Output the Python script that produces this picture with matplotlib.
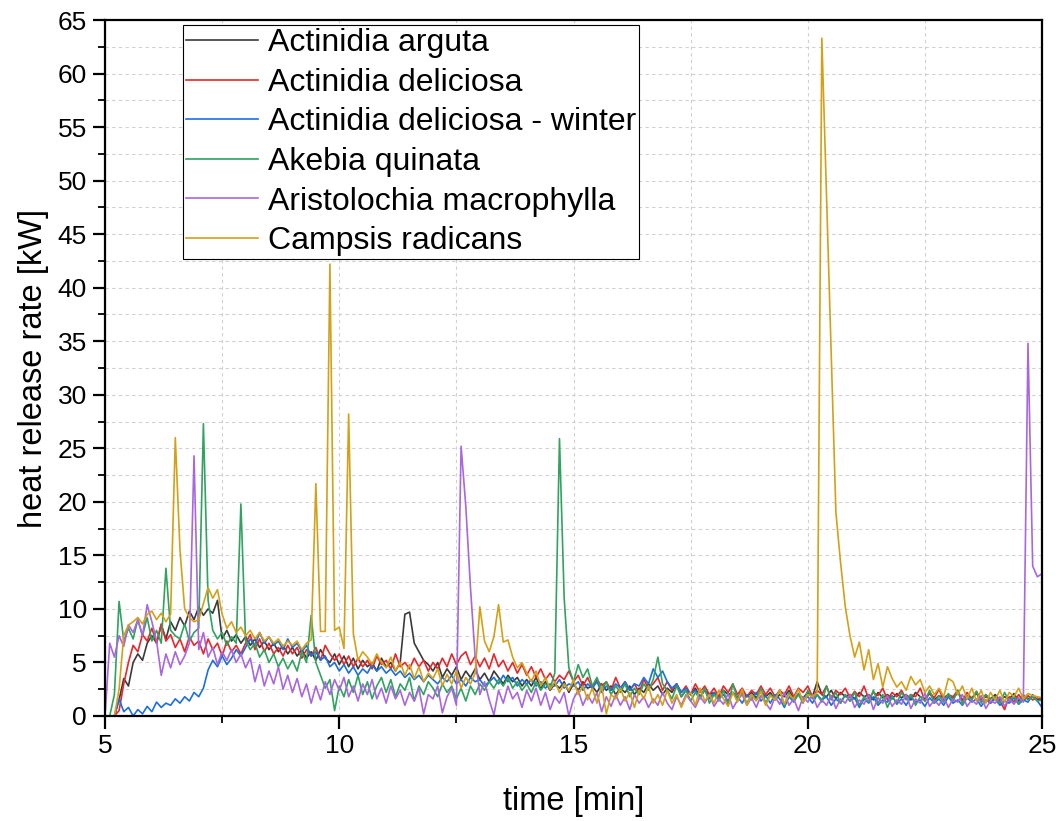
import numpy as np
import matplotlib
matplotlib.use("Agg")
import matplotlib.pyplot as plt
from matplotlib.ticker import MultipleLocator

plt.rcParams['font.family'] = ['Liberation Sans', 'DejaVu Sans']

# time axis [min], sampled every 0.1 min from 5.0 to 25.0
time_min = np.round(np.arange(50, 251) / 10.0, 1)

labels = ["Actinidia arguta", "Actinidia deliciosa", "Actinidia deliciosa - winter",
          "Akebia quinata", "Aristolochia macrophylla", "Campsis radicans"]
colors = ["#3a3a3a", "#e8262b", "#1c6fe0", "#2fa35f", "#a866e0", "#d4a017"]

actinidia_arguta = [
    0, 0, 0, 1.5, 3.5, 2.8, 5.0, 5.8, 5.2, 6.8,
    7.5, 6.8, 8.5, 7.2, 8.8, 8.0, 9.2, 8.4, 9.8, 9.0,
    10.2, 9.4, 10.0, 9.6, 10.8, 7.2, 8.0, 7.0, 7.6, 6.8,
    7.4, 6.6, 7.2, 6.4, 7.0, 6.2, 6.8, 6.0, 6.6, 5.8,
    6.4, 5.6, 6.2, 5.4, 6.0, 5.2, 6.2, 5.4, 5.0, 5.8,
    4.8, 5.6, 4.6, 5.4, 4.4, 5.2, 4.6, 5.0, 4.2, 5.4,
    4.6, 5.0, 4.2, 5.0, 9.5, 9.7, 6.8, 6.0, 5.2, 4.8,
    4.2, 5.0, 3.6, 4.4, 3.8, 4.6, 3.4, 4.2, 3.6, 4.4,
    3.4, 4.0, 3.2, 4.2, 3.6, 3.0, 3.8, 3.2, 3.6, 2.8,
    3.4, 2.8, 3.6, 2.6, 3.2, 2.4, 3.0, 2.6, 3.2, 2.2,
    3.0, 2.4, 3.2, 2.6, 2.8, 2.2, 3.0, 2.4, 2.8, 2.0,
    2.6, 2.2, 2.8, 2.0, 2.6, 2.2, 3.0, 2.4, 2.8, 2.0,
    2.6, 2.2, 3.0, 1.8, 2.4, 2.0, 2.6, 1.8, 2.4, 2.0,
    2.2, 1.8, 2.4, 2.0, 2.2, 1.6, 2.4, 1.8, 2.2, 1.7,
    2.3, 1.8, 2.2, 1.5, 2.0, 1.8, 2.4, 1.6, 2.0, 1.7,
    2.2, 1.8, 3.2, 2.0, 1.8, 2.4, 1.6, 2.2, 1.8, 2.0,
    1.6, 2.2, 1.8, 2.0, 1.5, 2.2, 1.7, 2.0, 1.6, 2.1,
    1.7, 2.0, 1.5, 2.2, 1.8, 1.6, 2.1, 1.5, 1.9, 1.7,
    2.0, 1.6, 2.2, 1.5, 1.9, 1.7, 2.1, 1.5, 1.8, 1.6,
    2.0, 1.5, 1.8, 1.6, 2.1, 1.4, 1.9, 1.6, 1.8, 1.5,
    1.6]

actinidia_deliciosa = [
    0, 0, 0, 0.5, 3.0, 5.0, 6.6, 6.0, 7.6, 7.0,
    8.2, 6.8, 8.6, 7.0, 7.6, 6.4, 7.2, 6.0, 7.4, 6.6,
    7.0, 5.8, 7.2, 6.2, 6.8, 5.6, 7.0, 6.0, 6.6, 5.8,
    6.8, 7.6, 6.2, 7.2, 6.0, 6.8, 5.8, 6.4, 5.6, 6.6,
    5.8, 6.4, 5.4, 6.2, 5.6, 6.4, 5.2, 6.6, 5.8, 5.2,
    5.8, 4.8, 5.6, 4.6, 5.4, 4.6, 5.2, 4.4, 5.6, 4.8,
    5.2, 4.4, 5.8, 4.6, 5.0, 4.4, 5.4, 4.6, 5.2, 4.2,
    5.0, 4.4, 5.4, 4.6, 5.8, 4.8, 5.6, 6.0, 4.8, 5.6,
    4.6, 5.4, 4.4, 5.8, 4.6, 5.2, 4.2, 5.0, 4.0, 4.8,
    3.8, 4.6, 3.6, 4.4, 3.4, 4.0, 3.2, 3.8, 3.4, 4.2,
    3.2, 3.8, 2.8, 3.6, 2.6, 3.4, 2.8, 3.2, 2.4, 3.6,
    2.6, 3.2, 2.4, 3.0, 2.2, 3.4, 2.6, 3.0, 3.6, 2.4,
    3.2, 2.4, 3.0, 2.2, 2.8, 2.0, 3.0, 2.2, 2.8, 2.0,
    2.6, 1.8, 2.8, 2.2, 3.0, 2.0, 2.6, 1.8, 2.4, 2.0,
    2.8, 2.0, 2.6, 1.8, 2.4, 2.0, 2.8, 1.8, 2.6, 2.2,
    2.8, 1.8, 2.4, 2.0, 2.8, 1.6, 2.4, 2.0, 2.6, 1.7,
    2.3, 1.8, 2.8, 1.6, 2.2, 1.9, 2.6, 1.5, 2.2, 1.8,
    2.4, 1.6, 2.0, 1.8, 2.6, 1.4, 2.2, 1.7, 2.5, 1.5,
    2.0, 1.8, 2.4, 1.4, 2.2, 1.6, 2.3, 1.5, 2.0, 1.2,
    1.8, 1.4, 0.6, 1.8, 1.3, 2.0, 1.4, 1.9, 1.5, 1.7,
    1.6]

actinidia_deliciosa_winter = [
    0, 0, 0, 1.6, 0.4, 0.8, 0.0, 0.6, 0.2, 0.9,
    0.4, 1.3, 0.8, 1.2, 1.0, 1.6, 1.2, 1.8, 1.4, 2.2,
    1.8, 2.6, 4.3, 5.2, 4.6, 5.6, 4.8, 5.4, 6.2, 5.6,
    6.4, 7.2, 6.6, 7.8, 6.8, 7.4, 6.6, 7.0, 6.2, 7.2,
    6.4, 6.8, 6.0, 6.6, 5.6, 6.0, 5.2, 5.6, 4.6, 5.0,
    4.2, 4.8, 4.0, 4.6, 3.8, 4.4, 4.0, 4.8, 4.2, 4.6,
    4.0, 4.4, 3.8, 4.2, 3.6, 4.0, 3.4, 3.8, 3.2, 3.8,
    3.4, 3.0, 3.6, 3.2, 3.8, 3.0, 3.4, 2.8, 3.6, 3.2,
    3.4, 2.8, 3.2, 3.6, 3.0, 3.8, 3.2, 3.6, 2.8, 3.4,
    3.0, 3.4, 2.8, 3.2, 2.6, 3.0, 2.8, 3.4, 2.6, 3.0,
    2.8, 3.2, 2.4, 3.0, 2.6, 3.2, 2.2, 2.8, 2.4, 3.0,
    2.6, 3.2, 2.4, 3.0, 2.8, 3.6, 3.0, 4.4, 3.6, 4.2,
    3.2, 2.6, 3.0, 2.2, 2.6, 2.0, 2.4, 1.8, 2.4, 1.6,
    2.2, 1.6, 2.0, 1.4, 2.2, 1.8, 1.2, 2.0, 1.5, 2.2,
    1.4, 1.9, 1.2, 2.0, 1.6, 0.8, 1.8, 1.3, 2.1, 1.5,
    1.8, 1.2, 2.0, 1.5, 1.8, 1.0, 1.6, 1.2, 2.0, 1.4,
    1.7, 0.8, 1.6, 1.2, 1.8, 1.0, 1.5, 1.3, 1.9, 1.1,
    1.6, 1.0, 1.8, 1.3, 1.5, 0.9, 1.7, 1.2, 1.6, 1.0,
    1.8, 1.2, 1.5, 1.0, 1.7, 1.3, 1.6, 0.9, 1.5, 1.2,
    1.6, 1.0, 1.4, 1.2, 1.7, 1.1, 1.5, 1.3, 2.0, 1.4,
    0.8]

akebia_quinata = [
    0, 0, 2.0, 10.7, 7.0, 8.2, 7.2, 9.0, 7.5, 9.2,
    7.0, 8.0, 6.8, 13.8, 8.0, 7.5, 7.2, 8.6, 7.0, 7.8,
    8.2, 27.3, 10.8, 8.0, 7.2, 7.8, 6.6, 7.4, 6.8, 19.8,
    7.0, 6.2, 6.8, 5.5, 6.2, 5.0, 5.8, 4.6, 5.4, 4.4,
    5.2, 4.2, 6.0, 5.0, 9.4, 5.0, 3.8, 2.6, 3.4, 0.5,
    2.8, 1.8, 3.4, 2.2, 3.8, 2.0, 3.2, 1.6, 2.8, 3.6,
    2.2, 3.4, 1.8, 3.0, 2.4, 3.6, 1.4, 2.8, 2.0, 3.2,
    2.6, 1.8, 3.0, 2.2, 2.8, 1.6, 2.6, 1.4, 2.8, 2.0,
    3.0, 2.4, 3.2, 2.6, 3.4, 2.8, 3.6, 2.6, 3.2, 2.4,
    3.0, 2.2, 3.2, 2.4, 3.0, 2.6, 4.0, 25.9, 11.0, 4.5,
    3.2, 4.8, 3.6, 4.4, 2.8, 3.6, 2.4, 3.2, 2.0, 2.8,
    2.2, 3.0, 1.8, 2.6, 2.0, 3.0, 2.4, 3.4, 5.5, 3.0,
    2.4, 1.6, 2.8, 1.8, 2.4, 1.4, 2.2, 1.6, 2.6, 1.2,
    2.0, 1.4, 2.4, 1.0, 3.0, 1.6, 2.2, 1.2, 2.0, 1.5,
    2.6, 1.2, 2.0, 1.6, 2.4, 1.0, 2.2, 1.4, 2.0, 1.2,
    2.4, 1.6, 2.0, 1.3, 2.8, 1.5, 2.2, 1.2, 2.0, 1.4,
    2.2, 1.0, 1.8, 1.3, 2.4, 1.2, 2.0, 0.8, 1.8, 1.2,
    2.2, 1.5, 2.0, 1.0, 1.8, 1.4, 2.4, 1.2, 1.9, 1.3,
    2.1, 1.4, 2.4, 1.1, 1.9, 1.5, 2.3, 1.2, 2.0, 1.6,
    1.8, 1.2, 2.2, 1.4, 1.9, 1.1, 2.0, 1.5, 1.8, 1.4,
    1.5]

aristolochia_macrophylla = [
    0, 6.8, 5.5, 7.5, 6.5, 8.5, 7.8, 9.0, 7.5, 10.4,
    8.8, 7.0, 3.8, 5.8, 4.5, 6.0, 4.8, 5.6, 6.8, 24.3,
    6.2, 7.8, 5.5, 6.4, 4.8, 6.0, 5.2, 6.2, 5.0, 5.8,
    4.5, 5.4, 3.2, 4.8, 2.8, 4.2, 3.0, 4.6, 2.5, 3.8,
    2.2, 3.5, 1.8, 3.0, 1.2, 2.8, 1.5, 3.2, 2.0, 3.4,
    2.4, 3.6, 1.8, 2.8, 1.4, 3.0, 2.0, 3.4, 1.6, 2.6,
    1.2, 2.8, 1.6, 2.4, 1.0, 2.2, 1.4, 2.6, 0.2, 2.0,
    1.6, 2.8, 0.3, 1.8, 2.6, 1.0, 25.2, 19.6, 12.0, 5.5,
    2.0, 3.2, 1.5, 0.1, 2.4, 1.2, 2.8, 1.6, 2.2, 0.8,
    2.4, 1.4, 2.6, 1.0, 2.2, 0.6, 1.8, 1.2, 2.2, 0.0,
    1.6, 2.4, 1.0, 2.0, 1.2, 2.2, 0.4, 1.8, 0.9, 2.0,
    1.0, 1.8, 0.6, 2.0, 1.2, 1.8, 0.8, 1.6, 1.0, 2.2,
    1.2, 0.6, 1.8, 1.0, 2.0, 1.4, 0.8, 1.8, 1.2, 2.0,
    0.9, 1.6, 1.1, 2.1, 0.7, 1.5, 2.0, 1.0, 1.7, 0.8,
    1.9, 1.2, 0.6, 1.8, 1.1, 2.2, 1.0, 1.6, 0.5, 1.8,
    1.3, 2.0, 0.8, 1.5, 1.0, 1.9, 0.7, 1.6, 1.2, 2.0,
    0.8, 1.5, 1.1, 2.0, 0.6, 1.7, 1.2, 1.9, 0.9, 1.5,
    1.1, 2.0, 0.7, 1.6, 1.2, 2.1, 0.9, 1.5, 1.0, 1.8,
    0.8, 1.6, 1.3, 2.0, 0.9, 1.5, 1.1, 1.9, 0.7, 1.4,
    1.2, 1.8, 0.9, 1.6, 1.1, 1.7, 1.3, 34.8, 14.0, 13.0,
    13.3]

campsis_radicans = [
    0, 0, 0, 2.5, 7.5, 8.5, 8.8, 9.2, 8.6, 9.5,
    9.8, 9.0, 9.6, 8.8, 9.5, 26.0, 15.5, 10.0, 9.2, 8.8,
    9.0, 10.5, 12.0, 11.0, 11.8, 9.5, 8.2, 8.8, 7.8, 8.3,
    7.5, 8.0, 7.2, 7.8, 7.0, 7.4, 6.8, 7.2, 6.5, 7.0,
    6.6, 7.0, 6.2, 6.8, 7.1, 21.7, 7.9, 7.9, 42.2, 8.0,
    8.3, 6.3, 28.2, 7.7, 5.2, 6.0, 5.5, 4.8, 5.8, 5.0,
    4.5, 5.5, 4.2, 5.0, 3.8, 4.8, 3.5, 4.6, 3.2, 4.0,
    3.5, 4.4, 2.8, 3.9, 3.0, 4.2, 2.6, 3.6, 3.0, 4.0,
    10.2, 7.0, 6.0, 7.4, 10.4, 6.9, 7.1, 5.5, 4.5, 5.0,
    4.0, 3.2, 4.2, 2.8, 3.6, 2.5, 3.2, 2.2, 3.0, 2.4,
    3.4, 2.0, 2.8, 1.5, 2.6, 1.2, 2.8, 0.2, 2.0, 1.6,
    2.6, 1.4, 2.2, 0.8, 2.4, 1.6, 2.8, 1.2, 2.0, 1.0,
    2.4, 1.2, 2.0, 0.8, 1.8, 2.2, 1.0, 2.6, 1.4, 2.0,
    1.2, 2.4, 1.6, 0.9, 2.2, 1.3, 2.5, 1.0, 2.0, 1.4,
    2.3, 1.0, 1.9, 1.5, 2.4, 1.1, 2.0, 1.6, 2.5, 1.3,
    2.0, 1.8, 2.2, 63.3, 48.5, 33.8, 19.0, 14.3, 10.2, 7.5,
    5.5, 6.9, 4.3, 6.2, 3.4, 4.9, 2.7, 4.6, 3.5, 2.7,
    3.2, 2.4, 3.7, 2.9, 3.4, 2.2, 2.8, 2.0, 2.6, 1.8,
    3.5, 3.2, 2.0, 2.8, 1.6, 2.6, 1.4, 2.4, 1.2, 2.2,
    1.5, 2.4, 1.3, 2.2, 1.8, 2.6, 1.6, 2.1, 1.9, 1.8,
    1.7]

series = [actinidia_arguta, actinidia_deliciosa, actinidia_deliciosa_winter,
          akebia_quinata, aristolochia_macrophylla, campsis_radicans]

fig = plt.figure(figsize=(10.63, 8.21), dpi=100)
ax = fig.add_axes([0.0988, 0.1279, 0.8815, 0.8477])

for vals, lab, col in zip(series, labels, colors):
    ax.plot(time_min, vals, color=col, lw=1.2, label=lab)

ax.set_xlim(5, 25)
ax.set_ylim(0, 65)
ax.xaxis.set_major_locator(MultipleLocator(5))
ax.xaxis.set_minor_locator(MultipleLocator(2.5))
ax.yaxis.set_major_locator(MultipleLocator(5))
ax.yaxis.set_minor_locator(MultipleLocator(2.5))
ax.grid(True, which='both', color='#d0d0d0', linestyle=(0, (3, 3)), lw=0.8)
ax.set_axisbelow(True)
ax.tick_params(which='major', direction='out', length=9, width=1.6, labelsize=19,
               colors='black', pad=4)
ax.tick_params(which='minor', direction='out', length=5, width=1.3)
for s in ax.spines.values():
    s.set_linewidth(1.6)
    s.set_color('black')

ax.set_xlabel('time [min]', fontsize=23.5, labelpad=20)
ax.set_ylabel('heat release rate [kW]', fontsize=23.5, labelpad=6)

leg = ax.legend(loc='upper left', bbox_to_anchor=(0.0832, 0.9928), borderaxespad=0,
                fontsize=23, handlelength=2.25, handletextpad=0.3, labelspacing=0.3,
                borderpad=0.1, fancybox=False, framealpha=1, edgecolor='black')
leg.get_frame().set_linewidth(0.8)

fig.savefig('out.png', dpi=100)
